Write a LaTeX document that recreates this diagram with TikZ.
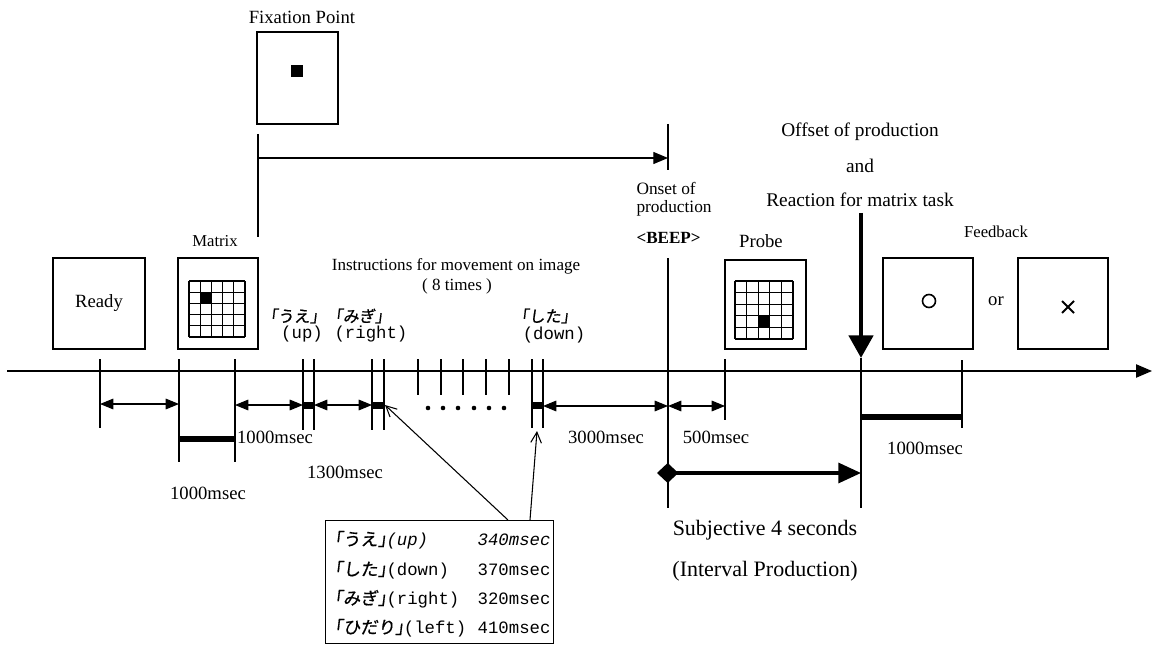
\documentclass[tikz,border=0pt]{standalone}
\usepackage{fontspec}
\setmainfont{Liberation Serif}
\setmonofont{Liberation Mono}
\newfontfamily\jpfont[FakeSlant=0.12,FakeBold=0.8]{Noto Sans CJK JP}
\usetikzlibrary{arrows.meta}
\newcommand\myfs[1]{\fontsize{#1}{#1}\selectfont}
\begin{document}
\begin{tikzpicture}[x=0.75pt,y=-0.75pt,line width=0.8pt,
  box/.style={draw,line width=0.9pt,inner sep=0pt},
  lbl/.style={inner sep=0pt},
  dim/.style={{Triangle[length=10pt,width=8pt]}-{Triangle[length=10pt,width=8pt]},line width=0.8pt},
  tk/.style={line width=0.9pt},
  barb/.style={-{Straight Barb[length=8pt,width=8pt]},line width=0.8pt},
  jp/.style={lbl,font=\jpfont\myfs{12}},
  tt/.style={lbl,font=\ttfamily\myfs{13}},
  ms/.style={lbl,font=\myfs{14}},
  bar/.style={fill=black,inner sep=0pt}]
\useasboundingbox (0,0) rectangle (1159,645);

% ---------- boxes ----------
\node[box,minimum width=69pt,minimum height=68.25pt,font=\myfs{14}] (ready) at (99,303.5) {Ready};
\node[box,minimum width=60pt,minimum height=68.25pt] (matrix) at (218,303.5) {};
\node[lbl,font=\myfs{12.5}] (matrixlbl) at (215,241) {Matrix};
\foreach \i in {0,...,5}{
  \draw[tk] ({189+\i*11.2},281) -- ({189+\i*11.2},337);
  \draw[tk] (189,{281+\i*11.2}) -- (245,{281+\i*11.2});
}
\fill (200.2,292.2) rectangle (211.4,303.4);

\node[box,minimum width=60.75pt,minimum height=69pt] (fix) at (297.5,78) {};
\fill (291,65) rectangle (303,77);
\node[lbl,font=\myfs{14}] (fixlbl) at (302,17) {Fixation Point};

\node[box,minimum width=60.75pt,minimum height=66.75pt] (probe) at (765.5,304.5) {};
\node[lbl,font=\myfs{14}] (probelbl) at (761,241) {Probe};
\foreach \i in {0,...,5}{
  \draw[tk] ({735+\i*11.6},281) -- ({735+\i*11.6},339);
  \draw[tk] (735,{281+\i*11.6}) -- (793,{281+\i*11.6});
}
\fill (758.2,315.8) rectangle (769.8,327.4);

\node[box,minimum width=67.5pt,minimum height=68.25pt] (fb1) at (928,303.5) {};
\draw[line width=1.2pt] (929,301) circle (6.5);
\node[lbl,font=\myfs{14}] (or) at (996,301) {or};
\node[box,minimum width=67.5pt,minimum height=68.25pt] (fb2) at (1063,303.5) {};
\draw[line width=1.5pt] (1062,301) -- (1074,313) (1062,313) -- (1074,301);
\node[lbl,font=\myfs{12.5}] (fblbl) at (996,232) {Feedback};

% ---------- top arrow (fixation) ----------
\coordinate (v1a) at (258,134);
\coordinate (v1b) at (258,237);
\draw[tk] (v1a) -- (v1b);
\coordinate (fa) at (258,158);
\coordinate (fbb) at (668,158);
\draw[-{Triangle[length=11pt,width=9pt]},line width=0.9pt] (fa) -- (fbb);
\coordinate (on1) at (668,124);
\coordinate (on2) at (668,170);
\draw[tk] (on1) -- (on2);
\node[lbl,anchor=west,font=\myfs{13}] (onset1) at (636,188) {Onset of};
\node[lbl,anchor=west,font=\myfs{13}] (onset2) at (636,208) {production};
\node[lbl,anchor=west,font=\bfseries\myfs{12.8}] (beep) at (636,238) {<BEEP>};

% ---------- instructions ----------
\node[lbl,font=\myfs{12.8}] (instr) at (456,266) {Instructions for movement on image};
\node[lbl,font=\myfs{12.8}] (times) at (457,286) {( 8 times )};
\node[jp] (ue) at (294,316) {｢うえ｣};
\node[jp] (migi) at (359,316) {｢みぎ｣};
\node[jp] (shita) at (545,316) {｢した｣};
\node[tt] (up) at (302,334) {(up)};
\node[tt] (right) at (371,334) {(right)};
\node[tt] (down) at (554,335) {(down)};

% ---------- axis ----------
\coordinate (ax0) at (7,371);
\coordinate (ax1) at (1152,371);
\draw[-{Triangle[length=12pt,width=10pt]},line width=0.9pt] (ax0) -- (ax1);

% ticks
\foreach \x/\a/\b in {100/359/428,179/359/462,235/359/462,303/359/430,314/359/430,372/359/430,384/359/430,
  418/359/395,441/359/395,463/359/395,486/359/395,509/359/395,532/359/428,543/359/428,
  668/258/508,725/359/420,861/358/508,962/360/428}
  \draw[tk] (\x,\a) -- (\x,\b);

% bars
\node[bar,minimum width=8.25pt,minimum height=5pt] (barA) at (308.5,405.5) {};
\node[bar,minimum width=9pt,minimum height=5pt] (barB) at (378,405.5) {};
\node[bar,minimum width=8.25pt,minimum height=5pt] (barC) at (537.5,405.5) {};

% dots
\foreach \x in {428,443,458,474,489,504} \fill (\x,408) circle (2.3);

% dimension arrows
\coordinate (d1a) at (100,404); \coordinate (d1b) at (179,404);
\draw[dim] (d1a) -- (d1b);
\coordinate (d2a) at (235,405); \coordinate (d2b) at (303,405);
\draw[dim] (d2a) -- (d2b);
\coordinate (d3a) at (314,405); \coordinate (d3b) at (372,405);
\draw[dim] (d3a) -- (d3b);
\coordinate (d4a) at (543,406); \coordinate (d4b) at (668,406);
\draw[dim] (d4a) -- (d4b);
\coordinate (d5a) at (668,406); \coordinate (d5b) at (725,406);
\draw[dim] (d5a) -- (d5b);

% thick bars
\coordinate (tb1a) at (179,439); \coordinate (tb1b) at (235,439);
\draw[line width=4.5pt] (tb1a) -- (tb1b);
\coordinate (tb2a) at (861,417); \coordinate (tb2b) at (963,417);
\draw[line width=5pt] (tb2a) -- (tb2b);

% msec labels
\node[ms] (m1) at (275,437) {1000msec};
\node[ms] (m2) at (208,493) {1000msec};
\node[ms] (m3) at (345,472) {1300msec};
\node[ms] (m4) at (606,437) {3000msec};
\node[ms] (m5) at (716,437) {500msec};
\node[ms] (m6) at (925,448) {1000msec};

% offset
\node[lbl,font=\myfs{14.5}] (off1) at (860,132) {Offset of production};
\node[lbl,font=\myfs{14.5}] (off2) at (860,166) {and};
\node[lbl,font=\myfs{14.5}] (off3) at (860,200) {Reaction for matrix task};
\coordinate (oa) at (861,213);
\coordinate (ob) at (861,358);
\draw[line width=3.5pt,-{Triangle[length=17pt,width=18pt]}] (oa) -- (ob);

% subjective interval
\coordinate (sa) at (657,473);
\coordinate (sb) at (861,473);
\draw[line width=2.4pt,{Diamond[length=16pt,width=15pt]}-{Triangle[length=17pt,width=15pt]}] (sa) -- (sb);
\node[lbl,font=\myfs{16.5}] (subj1) at (765,530) {Subjective 4 seconds};
\node[lbl,font=\myfs{16.5}] (subj2) at (765,571) {(Interval Production)};

% ---------- table ----------
\node[draw,line width=0.6pt,minimum width=171pt,minimum height=92.25pt,inner sep=0pt] (table) at (439,581.5) {};
\node[lbl,anchor=west] (r1) at (334,540) {{\jpfont\myfs{13}｢うえ｣}{\ttfamily\itshape\myfs{13}(up)}};
\node[lbl,anchor=west] (r2) at (334,570) {{\jpfont\myfs{13}｢した｣}{\ttfamily\myfs{13}(down)}};
\node[lbl,anchor=west] (r3) at (334,599) {{\jpfont\myfs{13}｢みぎ｣}{\ttfamily\myfs{13}(right)}};
\node[lbl,anchor=west] (r4) at (334,628) {{\jpfont\myfs{13}｢ひだり｣}{\ttfamily\myfs{13}(left)}};
\node[lbl,anchor=east,font=\ttfamily\itshape\myfs{13}] (t1) at (551,540) {340msec};
\node[lbl,anchor=east,font=\ttfamily\myfs{13}] (t2) at (551,570) {370msec};
\node[lbl,anchor=east,font=\ttfamily\myfs{13}] (t3) at (551,599) {320msec};
\node[lbl,anchor=east,font=\ttfamily\myfs{13}] (t4) at (551,628) {410msec};

\coordinate (c1) at (508,520);
\coordinate (c2) at (530,520);
\coordinate (c1t) at (385,405);
\coordinate (c2t) at (537,431);
\draw[barb] (c1) -- (c1t);
\draw[barb] (c2) -- (c2t);
\end{tikzpicture}
\end{document}
